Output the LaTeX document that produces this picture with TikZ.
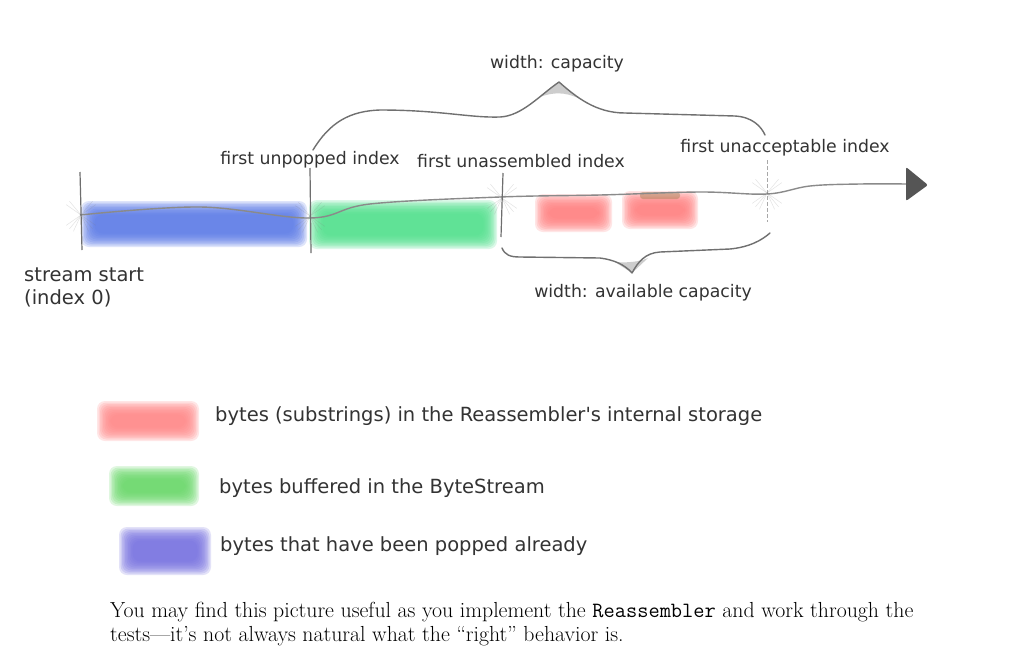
\documentclass[tikz,border=0pt]{standalone}
\usepackage{fontspec}
\newfontfamily\dvs{DejaVu Sans}
\usetikzlibrary{arrows.meta}
\definecolor{txtgray}{HTML}{333333}
\definecolor{linegray}{HTML}{8A8A8A}
\definecolor{tickgray}{HTML}{6E6E6E}
\definecolor{bracegray}{HTML}{707070}
\definecolor{arrowgray}{HTML}{555555}
\definecolor{barblue}{HTML}{5A7AE8}
\definecolor{bargreen}{HTML}{4FE08C}
\definecolor{barred}{HTML}{FF7E7E}
\definecolor{legred}{HTML}{FF8585}
\definecolor{leggreen}{HTML}{66D766}
\definecolor{legblue}{HTML}{7570E0}
\definecolor{brownish}{HTML}{A08050}
\newcommand\lblfont{\dvs\fontsize{17.3}{21}\selectfont}
\newcommand\startfont{\dvs\fontsize{19.5}{23}\selectfont}
\newcommand\legfont{\dvs\fontsize{19.5}{22}\selectfont}
\newcommand\bodyfont{\rmfamily\fontsize{21.8}{24}\selectfont}
\newcommand\blurbox[5]{%
  \foreach \k in {0,...,9}{%
    \fill[#1, opacity=0.2, rounded corners=8pt]
      ({#2+\k*1.5-3},{#3+\k*1.5-3}) rectangle ({#4-\k*1.5+3},{#5-\k*1.5+3});
  }%
}
\newcommand\fanat[2]{%
  \foreach \a in {35,50,65,115,130,145,-35,-50,-130,-145}{%
    \draw[fanline] (#1,#2) -- ++(\a:18);
  }%
}
\tikzset{
  lbl/.style={font=\lblfont, text=txtgray, inner sep=0pt},
  leg/.style={font=\legfont, text=txtgray, inner sep=0pt, anchor=west},
  axisline/.style={draw=linegray, line width=1.4pt},
  tickline/.style={draw=tickgray, line width=1.2pt},
  bracestyle/.style={draw=bracegray, line width=1.4pt, line join=round, line cap=round},
  fanline/.style={draw=gray, line width=0.5pt, opacity=0.22},
}
\begin{document}
\begin{tikzpicture}[x=1pt,y=-1pt]
\useasboundingbox (0,0) rectangle (1024,667);
\fill[white] (0,0) rectangle (1024,667);

% colour bars
\blurbox{barblue}{84}{204}{304}{244}
\blurbox{bargreen}{312}{203}{494}{246}
\blurbox{barred}{538}{197}{609}{229}
\blurbox{barred}{625}{194}{695}{226}
\fill[brownish, opacity=0.45, rounded corners=3pt] (640,192) rectangle (680,199);

% fans around ticks
\fanat{81}{215}
\fanat{310}{216}
\fanat{502}{198}
\fanat{767}{193}

% axis
\coordinate (s0) at (80,215);
\coordinate (tip) at (928,185);
\draw[axisline] plot[smooth, tension=0.6] coordinates {(80,215) (200,207) (310,218) (370,204) (500,197) (600,195) (700,192) (767,194) (810,186) (860,184) (908,184)};
\fill[arrowgray, rounded corners=2pt] (906,167) -- (tip) -- (906,201) -- cycle;

% ticks
\draw[tickline] (80,172) -- (82,250);
\draw[tickline] (310,168) -- (311,253);
\draw[tickline] (503,173) -- (501,237);
\draw[draw=tickgray, line width=0.8pt, dash pattern=on 4pt off 2pt, opacity=0.6] (767,160) -- (767,222);

% top brace
\draw[bracestyle] (313,150) .. controls (330,122) and (350,111) .. (380,110)
  .. controls (440,110) and (470,118) .. (500,117)
  .. controls (522,116) and (540,95) .. (559,82)
  .. controls (575,96) and (595,113) .. (625,113)
  -- (735,116) .. controls (752,117) and (761,126) .. (765,135);
\fill[bracegray, opacity=0.35] (540,97) -- (559,82) -- (578,98) .. controls (565,92) and (553,92) .. cycle;

% bottom brace
\draw[bracestyle] (502,248) .. controls (505,255) and (510,257) .. (520,257)
  -- (600,258) .. controls (615,260) and (625,265) .. (632,273)
  .. controls (638,262) and (645,253) .. (660,252)
  -- (730,249) .. controls (750,247) and (762,240) .. (770,233);
\fill[bracegray, opacity=0.35] (615,262) -- (632,273) -- (648,258) .. controls (640,262) and (625,263) .. cycle;

% labels
\node[lbl] (cap) at (557,64) {width: capacity};
\node[lbl] (unpop) at (310,160) {first unpopped index};
\node[lbl] (unasm) at (521,161) {first unassembled index};
\node[lbl] (unacc) at (785,148) {first unacceptable index};
\node[lbl] (avail) at (643,293) {width: available capacity};
\node[lbl, font=\startfont, align=left, anchor=north west] (start) at (24,268) {stream start\\(index 0)};

% legend
\blurbox{legred}{100}{404}{196}{438}
\blurbox{leggreen}{112}{469}{196}{503}
\blurbox{legblue}{122}{530}{208}{572}
\node[leg] (l1) at (215,416) {bytes (substrings) in the Reassembler\textquotesingle s internal storage};
\node[leg] (l2) at (219,488) {bytes buffered in the ByteStream};
\node[leg] (l3) at (220,546) {bytes that have been popped already};

% body text
\node[font=\bodyfont, anchor=base west, inner sep=0pt] (p1) at (110,617) {You may find this picture useful as you implement the \texttt{Reassembler} and work through the};
\node[font=\bodyfont, anchor=base west, inner sep=0pt] (p2) at (110,641) {tests---it's not always natural what the ``right'' behavior is.};
\end{tikzpicture}
\end{document}
